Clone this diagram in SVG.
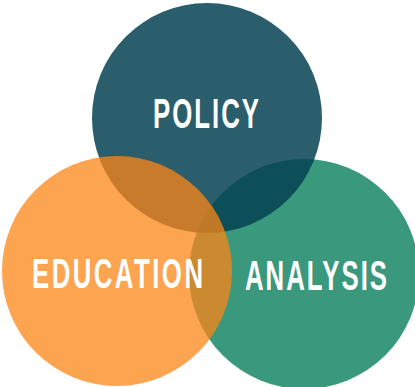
<svg xmlns="http://www.w3.org/2000/svg" width="415" height="387" viewBox="0 0 415 387">
<style>
.lbl{font-family:"Liberation Sans","DejaVu Sans",sans-serif;font-weight:bold;font-size:43px;fill:#ffffff}
</style>
<rect width="415" height="387" fill="#ffffff"/>
<g id="analysis">
<circle cx="304" cy="274" r="115" fill="#3a997c"/>
</g>
<g id="policy">
<circle cx="207" cy="118" r="115" fill="#064252" fill-opacity="0.85"/>
</g>
<g id="education">
<circle cx="117" cy="271" r="115" fill="#fc8516" fill-opacity="0.75"/>
</g>
<g id="labels">
<text class="lbl" transform="translate(153,128) scale(0.6,1)" textLength="176.7" lengthAdjust="spacing">POLICY</text>
<text class="lbl" transform="translate(32,288) scale(0.6,1)" textLength="285" lengthAdjust="spacing">EDUCATION</text>
<text class="lbl" transform="translate(245,290) scale(0.6,1)" textLength="236.7" lengthAdjust="spacing">ANALYSIS</text>
</g>
</svg>
